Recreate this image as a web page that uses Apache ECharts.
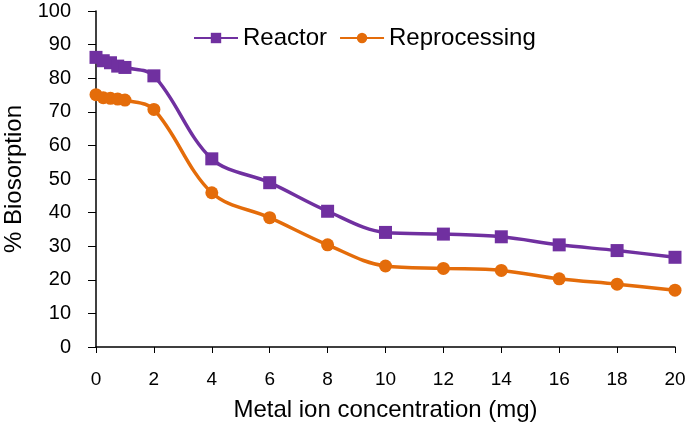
<!DOCTYPE html>
<html>
<head>
<meta charset="utf-8">
<script src="https://cdn.jsdelivr.net/npm/echarts@6/dist/echarts.min.js"></script>
<style>html,body{margin:0;padding:0;background:#fff}#c{width:685px;height:428px}</style>
</head>
<body>
<div id="c"></div>
<script>
const xValues = [0, 0.25, 0.5, 0.75, 1, 2, 4, 6, 8, 10, 12, 14, 16, 18, 20];
const reactor = [86.2, 85.2, 84.6, 83.6, 83.2, 80.7, 56.0, 48.9, 40.4, 34.1, 33.6, 32.8, 30.4, 28.7, 26.7];
const reprocessing = [75.1, 74.2, 74.0, 73.8, 73.5, 70.7, 45.9, 38.5, 30.4, 24.1, 23.4, 22.8, 20.3, 18.7, 16.9];
const seriesNames = ['Reactor', 'Reprocessing'];
const xTitle = 'Metal ion concentration (mg)';
const yTitle = '% Biosorption';

const font = 'Liberation Sans, Arial, sans-serif';
const chart = echarts.init(document.getElementById('c'), null, {renderer: 'canvas'});
const pair = (ys) => xValues.map((x, i) => [x, ys[i]]);
chart.setOption({
  animation: false,
  grid: {left: 96, right: 10, top: 11, bottom: 81, containLabel: false, outerBoundsMode: 'none'},
  legend: {
    top: 21, left: 188,
    itemWidth: 44, itemHeight: 13, itemGap: 12,
    textStyle: {fontFamily: font, fontSize: 24, color: '#000'},
    data: seriesNames
  },
  xAxis: {
    type: 'value', min: 0, max: 20, interval: 2,
    name: xTitle, nameLocation: 'middle', nameGap: 51,
    nameTextStyle: {fontFamily: font, fontSize: 24, color: '#000'},
    axisLine: {lineStyle: {color: '#000', width: 1.5}},
    axisTick: {show: true, length: 6, lineStyle: {color: '#000'}},
    axisLabel: {fontFamily: font, fontSize: 19, color: '#000', margin: 23},
    splitLine: {show: false}
  },
  yAxis: {
    type: 'value', min: 0, max: 100, interval: 10,
    name: yTitle, nameLocation: 'middle', nameGap: 68, nameRotate: 90,
    nameTextStyle: {fontFamily: font, fontSize: 24, color: '#000'},
    axisLine: {show: true, lineStyle: {color: '#000', width: 1.5}},
    axisTick: {show: true, length: 8, lineStyle: {color: '#000'}},
    axisLabel: {fontFamily: font, fontSize: 20, color: '#000', margin: 25},
    splitLine: {show: false}
  },
  series: [
    {
      name: seriesNames[0], type: 'line', smooth: 0.35,
      data: pair(reactor),
      symbol: 'rect', symbolSize: 13,
      itemStyle: {color: '#7030A0'},
      lineStyle: {color: '#7030A0', width: 3.5}
    },
    {
      name: seriesNames[1], type: 'line', smooth: 0.35,
      data: pair(reprocessing),
      symbol: 'circle', symbolSize: 13,
      itemStyle: {color: '#E46C0A'},
      lineStyle: {color: '#E46C0A', width: 3.5}
    }
  ]
});
</script>
</body>
</html>
